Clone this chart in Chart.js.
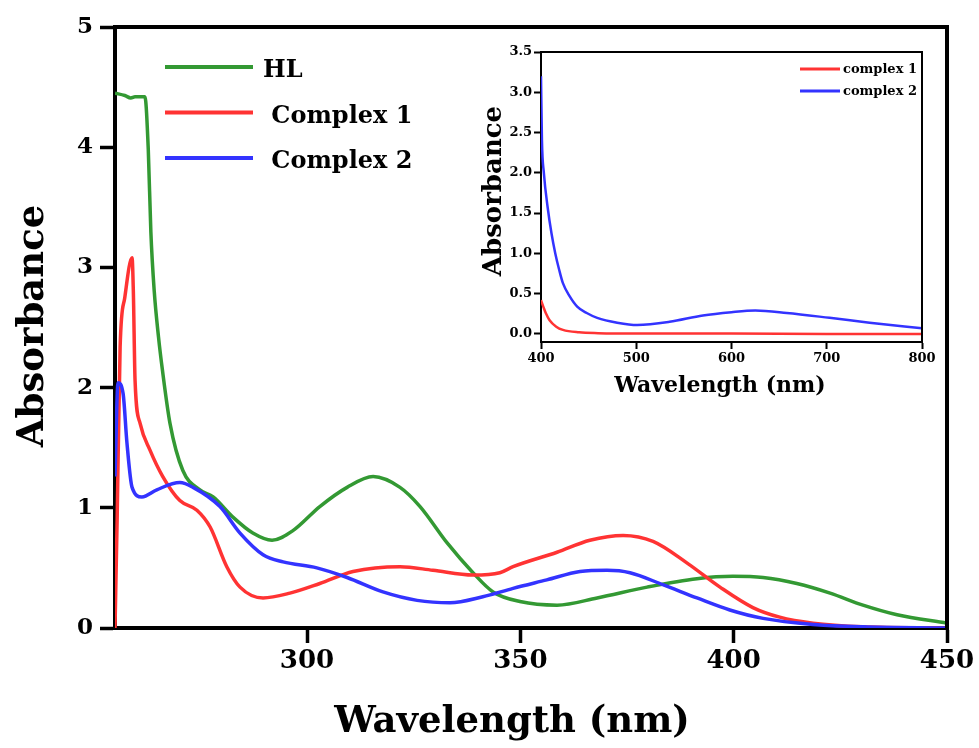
<!DOCTYPE html>
<html>
<head>
<meta charset="utf-8">
<title>Absorbance spectra</title>
<script src="https://cdn.jsdelivr.net/npm/chart.js@4.4.1/dist/chart.umd.min.js"></script>
<style>
  html, body { margin: 0; padding: 0; background: #fff; }
  #wrap { position: relative; width: 979px; height: 748px; }
  #mainChart { position: absolute; left: 0; top: 0; }
  #insetChart { position: absolute; left: 470px; top: 30px; }
</style>
</head>
<body>
<div id="wrap">
  <canvas id="mainChart" width="979" height="748"></canvas>
  <canvas id="insetChart" width="470" height="380"></canvas>
</div>
<script>
// main panel, 255 - 450 nm
const hlWavelength = [255, 257.3, 258.7, 259.7, 262, 262.8, 263.4, 264.2, 265.2, 266.1, 267.9, 270.9, 274.9, 278, 282.7, 287.3, 291.8, 296.7, 303, 309.4, 315.5, 321.8, 326.5, 332.8, 338.9, 343.6, 349.9, 358.6, 368, 379.7, 391.4, 399.8, 406.9, 414.8, 422.6, 430.3, 438.3, 450];
const hlAbs = [4.45, 4.43, 4.41, 4.42, 4.42, 3.98, 3.3, 2.8, 2.42, 2.15, 1.7, 1.31, 1.15, 1.09, 0.92, 0.79, 0.73, 0.81, 1.01, 1.17, 1.26, 1.17, 1.01, 0.71, 0.46, 0.30, 0.22, 0.19, 0.25, 0.34, 0.41, 0.43, 0.42, 0.37, 0.29, 0.19, 0.11, 0.04];

const c1Wavelength = [255, 255.5, 256.2, 257.3, 259, 259.3, 259.7, 260.9, 263.2, 266.2, 270.2, 274.2, 277.3, 281.2, 284.3, 289.7, 296, 303, 310.8, 321.8, 329.5, 338.9, 345.2, 348.3, 358.6, 366.3, 374.1, 381.1, 389.1, 396.8, 404.5, 410.8, 418.6, 430.3, 450];
const c1Abs = [0, 0.9, 2.34, 2.75, 3.08, 2.8, 2.06, 1.70, 1.48, 1.26, 1.06, 0.98, 0.84, 0.51, 0.34, 0.25, 0.29, 0.37, 0.47, 0.51, 0.48, 0.44, 0.46, 0.51, 0.63, 0.73, 0.77, 0.72, 0.54, 0.34, 0.17, 0.09, 0.04, 0.01, 0];

const c2Wavelength = [255, 255.7, 256.9, 257.8, 259, 261.3, 264.8, 270.2, 273.3, 279.6, 284.3, 289.7, 294.4, 302.3, 309.4, 317.8, 325.8, 333.5, 341.2, 348.3, 356.2, 364, 370.3, 375.7, 383.4, 391.4, 399.1, 406.9, 418.6, 430.3, 450];
const c2Abs = [1.26, 2.04, 1.95, 1.54, 1.17, 1.09, 1.15, 1.21, 1.17, 1.01, 0.79, 0.61, 0.55, 0.50, 0.42, 0.30, 0.23, 0.21, 0.26, 0.33, 0.40, 0.47, 0.48, 0.46, 0.36, 0.25, 0.15, 0.08, 0.03, 0.01, 0];

const mainXTicks = [300, 350, 400, 450];

// inset, 400 - 800 nm
const insetC1Wavelength = [400, 403, 405, 409, 416, 423, 440, 460, 500, 600, 700, 800];
const insetC1Abs = [0.42, 0.32, 0.26, 0.17, 0.09, 0.05, 0.02, 0.01, 0.005, 0.005, 0, 0];
const insetC2Wavelength = [400, 401, 403, 407, 411, 415, 419, 423, 430, 438, 448, 459, 480, 501, 535, 570, 600, 625, 658, 703, 745, 800];
const insetC2Abs = [3.2, 2.4, 2.0, 1.57, 1.25, 1.0, 0.8, 0.63, 0.47, 0.34, 0.26, 0.2, 0.14, 0.11, 0.15, 0.23, 0.27, 0.29, 0.26, 0.20, 0.14, 0.07];

const insetYTicks = [0, 0.5, 1, 1.5, 2, 2.5, 3, 3.5];

const GREEN = 'rgb(51,153,51)';
const RED = 'rgb(255,51,51)';
const BLUE = 'rgb(51,51,255)';
const FONT = "'DejaVu Serif', serif";

const zip = (xs, ys) => xs.map((x, i) => ({ x: x, y: ys[i] }));

// top + right lines of the box
const frame = {
  id: 'frame',
  afterDraw(chart, args, opts) {
    const a = chart.chartArea;
    const ctx = chart.ctx;
    ctx.save();
    ctx.strokeStyle = '#000';
    ctx.lineWidth = opts.width;
    ctx.lineCap = 'square';
    ctx.beginPath();
    ctx.moveTo(a.left, a.top);
    ctx.lineTo(a.right, a.top);
    ctx.lineTo(a.right, a.bottom);
    ctx.stroke();
    ctx.restore();
  }
};

// legend drawn inside the plot, like the original
const lineLegend = {
  id: 'lineLegend',
  afterDraw(chart, args, opts) {
    const ctx = chart.ctx;
    ctx.save();
    ctx.font = opts.font;
    ctx.textBaseline = 'middle';
    ctx.fillStyle = '#000';
    chart.data.datasets.forEach((ds, i) => {
      const y = opts.y + i * opts.gap;
      ctx.strokeStyle = ds.borderColor;
      ctx.lineWidth = opts.lineWidth;
      ctx.beginPath();
      ctx.moveTo(opts.x, y);
      ctx.lineTo(opts.x + opts.len, y);
      ctx.stroke();
      ctx.fillText(ds.label, opts.x + opts.len + opts.textGap, y + opts.textDy);
    });
    ctx.restore();
  }
};

// axis titles; the original ones sit a bit left of the axis centre
const axisTitles = {
  id: 'axisTitles',
  afterDraw(chart, args, opts) {
    const ctx = chart.ctx;
    ctx.save();
    ctx.fillStyle = '#000';
    ctx.textAlign = 'center';
    ctx.textBaseline = 'middle';
    opts.items.forEach(t => {
      ctx.save();
      ctx.font = t.font;
      ctx.translate(t.x, t.y);
      if (t.rotate) ctx.rotate(-Math.PI / 2);
      ctx.fillText(t.text, 0, 0);
      ctx.restore();
    });
    ctx.restore();
  }
};

const lineStyle = (label, color, data, width, order) => ({
  label: label,
  data: data,
  borderColor: color,
  backgroundColor: color,
  borderWidth: width,
  pointRadius: 0,
  cubicInterpolationMode: 'monotone',
  borderJoinStyle: 'round',
  order: order
});

new Chart(document.getElementById('mainChart'), {
  type: 'line',
  data: {
    datasets: [
      lineStyle('HL', GREEN, zip(hlWavelength, hlAbs), 3.5, 2),
      lineStyle(' Complex 1', RED, zip(c1Wavelength, c1Abs), 3.5, 1),
      lineStyle(' Complex 2', BLUE, zip(c2Wavelength, c2Abs), 3.5, 0)
    ]
  },
  plugins: [frame, lineLegend, axisTitles],
  options: {
    responsive: false,
    animation: false,
    layout: { padding: { top: 27, right: 32, left: 0, bottom: 0 } },
    plugins: {
      legend: { display: false },
      tooltip: { enabled: false },
      frame: { width: 4 },
      lineLegend: { x: 165, y: 67, gap: 45.5, len: 88, textGap: 10, textDy: 4, lineWidth: 4, font: 'bold 24px ' + FONT },
      axisTitles: {
        items: [
          { text: 'Wavelength (nm)', x: 512, y: 722, font: 'bold 37px ' + FONT },
          { text: 'Absorbance', x: 33, y: 326, rotate: true, font: 'bold 37px ' + FONT }
        ]
      }
    },
    scales: {
      x: {
        type: 'linear',
        min: 255,
        max: 450,
        afterBuildTicks: (scale) => { scale.ticks = mainXTicks.map(v => ({ value: v })); },
        afterFit: (scale) => { scale.height = 120; },
        border: { display: true, color: '#000', width: 4 },
        grid: { drawOnChartArea: false, drawTicks: true, tickLength: 15, tickColor: '#000', tickWidth: 3.5 },
        ticks: { color: '#000', padding: 3, maxRotation: 0, font: { family: FONT, size: 26, weight: 'bold' } }
      },
      y: {
        min: 0,
        max: 5,
        afterFit: (scale) => { scale.width = 115; },
        border: { display: true, color: '#000', width: 4 },
        grid: { drawOnChartArea: false, drawTicks: true, tickLength: 15, tickColor: '#000', tickWidth: 3.5 },
        ticks: { stepSize: 1, color: '#000', padding: 7, font: { family: FONT, size: 23, weight: 'bold' } }
      }
    }
  }
});

new Chart(document.getElementById('insetChart'), {
  type: 'line',
  data: {
    datasets: [
      lineStyle('complex 1', RED, zip(insetC1Wavelength, insetC1Abs), 2.5, 1),
      lineStyle('complex 2', BLUE, zip(insetC2Wavelength, insetC2Abs), 2.5, 0)
    ]
  },
  plugins: [frame, lineLegend, axisTitles],
  options: {
    responsive: false,
    animation: false,
    layout: { padding: { top: 22, right: 18, left: 0, bottom: 0 } },
    plugins: {
      legend: { display: false },
      tooltip: { enabled: false },
      frame: { width: 2 },
      lineLegend: { x: 330, y: 39, gap: 22, len: 40, textGap: 3, textDy: 1, lineWidth: 3, font: 'bold 13px ' + FONT },
      axisTitles: {
        items: [
          { text: 'Wavelength (nm)', x: 250, y: 356, font: 'bold 22px ' + FONT },
          { text: 'Absorbance', x: 24, y: 161, rotate: true, font: 'bold 26px ' + FONT }
        ]
      }
    },
    scales: {
      x: {
        type: 'linear',
        min: 400,
        max: 800,
        afterFit: (scale) => { scale.height = 68; },
        border: { display: true, color: '#000', width: 2 },
        grid: { drawOnChartArea: false, drawTicks: true, tickLength: 7, tickColor: '#000', tickWidth: 2 },
        ticks: { stepSize: 100, color: '#000', padding: 2, maxRotation: 0, font: { family: FONT, size: 13, weight: 'bold' } }
      },
      y: {
        min: -0.1,
        max: 3.5,
        afterBuildTicks: (scale) => { scale.ticks = insetYTicks.map(v => ({ value: v })); },
        afterFit: (scale) => { scale.width = 71; },
        border: { display: true, color: '#000', width: 2 },
        grid: { drawOnChartArea: false, drawTicks: true, tickLength: 7, tickColor: '#000', tickWidth: 2 },
        ticks: { color: '#000', padding: 2, callback: (v) => v.toFixed(1), font: { family: FONT, size: 13, weight: 'bold' } }
      }
    }
  }
});
</script>
</body>
</html>
